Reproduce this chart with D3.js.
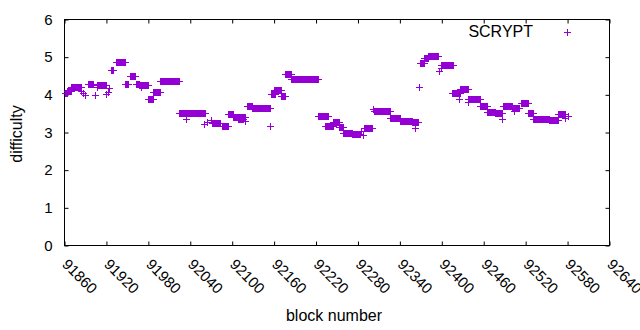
<!DOCTYPE html>
<html>
<head>
<meta charset="utf-8">
<script src="https://cdn.jsdelivr.net/npm/d3@7"></script>
<style>
  body { margin: 0; background: #fff; }
  svg { display: block; }
  text { font-family: "Liberation Sans", Arial, sans-serif; fill: #000; }
</style>
</head>
<body>
<div id="chart"></div>
<script>
var width = 640;
var height = 330;

// runs of scrypt blocks with the same difficulty (first block, last block, difficulty)
var runFirst = [91860, 91864, 91870, 91884, 91887, 91890, 91893, 91904, 91906, 91907,
  91920, 91922, 91924, 91926, 91933, 91947, 91954, 91963, 91967, 91970,
  91979, 91987, 91996, 92024, 92034, 92060, 92064, 92069, 92071, 92086,
  92094, 92101, 92108, 92119, 92121, 92129, 92154, 92156, 92160, 92170,
  92176, 92184, 92223, 92233, 92244, 92253, 92259, 92271, 92284, 92287,
  92289, 92301, 92303, 92326, 92340, 92357, 92361, 92367, 92369, 92375,
  92380, 92396, 92399, 92399, 92414, 92424, 92426, 92437, 92438, 92454,
  92464, 92476, 92486, 92487, 92500, 92503, 92513, 92524, 92530, 92554,
  92566, 92577, 92580];
var runLast = [91863, 91869, 91883, 91884, 91887, 91890, 91901, 91904, 91919, 91907,
  91920, 91922, 91924, 91930, 91947, 91951, 91961, 91966, 91979, 91970,
  91986, 91996, 92024, 92061, 92034, 92060, 92064, 92069, 92083, 92094,
  92101, 92119, 92115, 92119, 92129, 92154, 92154, 92161, 92170, 92176,
  92184, 92223, 92237, 92244, 92253, 92259, 92271, 92283, 92284, 92287,
  92300, 92302, 92326, 92340, 92357, 92366, 92361, 92367, 92374, 92380,
  92394, 92396, 92399, 92416, 92426, 92424, 92437, 92454, 92438, 92464,
  92476, 92486, 92486, 92501, 92511, 92503, 92523, 92530, 92554, 92566,
  92576, 92577, 92580];
var runDifficulty = [4.05, 4.1, 4.2, 4.1, 4.05, 4.0, 4.28, 3.99, 4.27, 4.22,
  4.02, 4.07, 4.18, 4.66, 4.87, 4.3, 4.49, 4.3, 4.27, 4.22,
  3.89, 4.07, 4.36, 3.51, 3.37, 3.22, 3.28, 3.32, 3.26, 3.18,
  3.5, 3.41, 3.37, 3.3, 3.7, 3.65, 3.16, 4.02, 4.13, 3.96,
  4.55, 4.42, 3.44, 3.18, 3.27, 3.15, 3.0, 2.97, 3.05, 2.93,
  3.13, 3.62, 3.57, 3.38, 3.31, 3.28, 3.12, 4.2, 4.84, 4.98,
  5.02, 4.62, 4.71, 4.79, 4.04, 3.9, 4.15, 3.89, 3.8, 3.71,
  3.54, 3.52, 3.35, 3.7, 3.65, 3.57, 3.79, 3.51, 3.36, 3.33,
  3.49, 3.38, 3.44];

var xTicks = [91860, 91920, 91980, 92040, 92100, 92160, 92220, 92280, 92340, 92400, 92460, 92520, 92580, 92640];
var yTicks = [0, 1, 2, 3, 4, 5, 6];
var seriesName = "SCRYPT";

// one point per block in each run
var points = [];
for (var i = 0; i < runFirst.length; i++) {
  for (var b = runFirst[i]; b <= runLast[i]; b++) {
    points.push({block: b, difficulty: runDifficulty[i]});
  }
}

var plotLeft = 64.5, plotRight = 609.5, plotTop = 19.5, plotBottom = 245.5;
var color = "#9400d3";

var x = d3.scaleLinear().domain([91860, 92640]).range([plotLeft, plotRight]);
var y = d3.scaleLinear().domain([0, 6]).range([plotBottom, plotTop]);

var svg = d3.select("#chart").append("svg")
  .attr("width", width)
  .attr("height", height);

// x axis, ticks pointing in, mirrored at top
var xAxis = svg.append("g").attr("transform", "translate(0," + plotBottom + ")")
  .call(d3.axisBottom(x).tickValues(xTicks).tickSizeInner(-4).tickSizeOuter(0).tickFormat(d3.format("d")));
xAxis.selectAll("text")
  .attr("transform", "translate(0,16) rotate(45)")
  .attr("x", 0).attr("y", 0).attr("dy", "0.35em")
  .style("text-anchor", "start");

svg.append("g").attr("transform", "translate(0," + plotTop + ")")
  .call(d3.axisTop(x).tickValues(xTicks).tickSizeInner(-4).tickSizeOuter(0).tickFormat(""));

// y axis, mirrored on the right
var yAxis = svg.append("g").attr("transform", "translate(" + plotLeft + ",0)")
  .call(d3.axisLeft(y).tickValues(yTicks).tickSizeInner(-4).tickSizeOuter(0).tickFormat(d3.format("d")));
yAxis.selectAll("text").attr("x", -12);

svg.append("g").attr("transform", "translate(" + plotRight + ",0)")
  .call(d3.axisRight(y).tickValues(yTicks).tickSizeInner(-4).tickSizeOuter(0).tickFormat(""));

svg.selectAll(".domain").remove();
svg.selectAll(".tick line").attr("stroke", "#000");
svg.selectAll(".tick text").style("font-size", "15px").style("font-family", "'Liberation Sans', Arial, sans-serif").attr("fill", "#000");

svg.append("rect")
  .attr("x", plotLeft).attr("y", plotTop)
  .attr("width", plotRight - plotLeft).attr("height", plotBottom - plotTop)
  .attr("fill", "none").attr("stroke", "#000").attr("stroke-width", 1);

// plus markers
var plus = function(px, py) {
  var s = 3.5;
  return "M" + (px - s) + "," + py + "H" + (px + s) + "M" + px + "," + (py - s) + "V" + (py + s);
};

svg.append("g")
  .selectAll("path")
  .data(points)
  .enter()
  .append("path")
  .attr("d", function(d) { return plus(Math.round(x(d.block)) + 0.5, Math.round(y(d.difficulty)) + 0.5); })
  .attr("stroke", color)
  .attr("stroke-width", 1)
  .attr("fill", "none");

// legend
svg.append("text")
  .attr("x", 533).attr("y", 37)
  .attr("text-anchor", "end")
  .style("font-size", "16px")
  .text(seriesName);
svg.append("path")
  .attr("d", plus(567.5, 32.5))
  .attr("stroke", color)
  .attr("stroke-width", 1);

// axis titles
svg.append("text")
  .attr("x", 334).attr("y", 321)
  .attr("text-anchor", "middle")
  .style("font-size", "16px")
  .text("block number");

svg.append("text")
  .attr("transform", "translate(22,134) rotate(-90)")
  .attr("text-anchor", "middle")
  .style("font-size", "16px")
  .text("difficulty");
</script>
</body>
</html>
